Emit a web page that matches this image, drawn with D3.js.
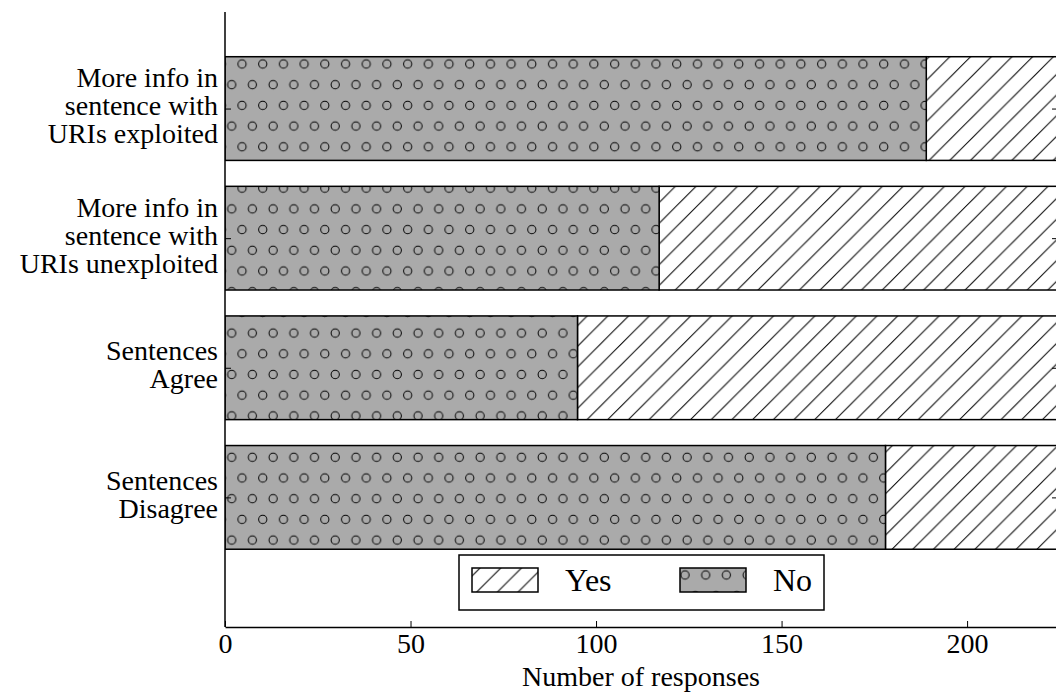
<!DOCTYPE html>
<html>
<head>
    <script src="https://d3js.org/d3.v7.min.js"></script>
    <style>
        body { margin: 0; background: #fff; }
    </style>
</head>
<body>
<script>
// categories from bottom (0) to top (3)
const categories = [
    ['Sentences', 'Disagree'],
    ['Sentences', 'Agree'],
    ['More info in', 'sentence with', 'URIs unexploited'],
    ['More info in', 'sentence with', 'URIs exploited']
];
const noValues = [178, 95, 117, 189];
const yesValues = [72, 155, 133, 61];
const xTicks = [0, 50, 100, 150, 200];
const legendLabels = ['Yes', 'No'];
const xLabel = 'Number of responses';

const font = '"Liberation Serif", "DejaVu Serif", serif';
const width = 1056;
const height = 693;
const margin = { top: 12, right: -2, bottom: 66, left: 225 };

const x = d3.scaleLinear()
    .domain([0, 224.5])
    .range([margin.left, width - margin.right]);

const y = d3.scaleLinear()
    .domain([-1, 3.745])
    .range([height - margin.bottom, margin.top]);

const barH = 0.8;

let svg = d3.select('body').append('svg')
    .attr('width', width)
    .attr('height', height)
    .attr('viewBox', [0, 0, width, height])
    .style('font-family', font);

const defs = svg.append('defs');

// diagonal hatch for "Yes"
const hs = 20.7;
const pYes = defs.append('pattern')
    .attr('id', 'hatchYes')
    .attr('patternUnits', 'userSpaceOnUse')
    .attr('width', hs).attr('height', hs);
pYes.append('rect').attr('width', hs).attr('height', hs).attr('fill', '#fff');
pYes.append('path')
    .attr('d', `M-1,14 L14,-1 M12,${hs + 1} L${hs + 1},12`)
    .attr('stroke', '#000').attr('stroke-width', 1);

// small circles for "No"
function circlePattern(id, ox, oy) {
    const p = defs.append('pattern')
        .attr('id', id)
        .attr('patternUnits', 'userSpaceOnUse')
        .attr('x', ox).attr('y', oy)
        .attr('width', hs).attr('height', hs * 2);
    p.append('rect').attr('width', hs).attr('height', hs * 2).attr('fill', '#aaaaaa');
    [[hs / 4, hs / 2], [hs * 3 / 4, hs * 1.5]].forEach(c => {
        p.append('circle')
            .attr('cx', c[0]).attr('cy', c[1]).attr('r', 4.1)
            .attr('fill', 'none').attr('stroke', '#000').attr('stroke-width', 1);
    });
}
circlePattern('hatchNo', -1.175, -8.45);
circlePattern('hatchNoLegend', -3.275, 26.45);

defs.append('clipPath').attr('id', 'plotClip')
    .append('rect')
    .attr('x', margin.left).attr('y', margin.top)
    .attr('width', width - margin.right - margin.left)
    .attr('height', height - margin.bottom - margin.top);

const bars = svg.append('g').attr('clip-path', 'url(#plotClip)');

const idx = d3.range(categories.length);

bars.selectAll('rect.yes')
    .data(idx)
    .join('rect')
    .attr('class', 'yes')
    .attr('x', i => x(noValues[i]))
    .attr('y', i => y(i + barH / 2))
    .attr('width', i => x(noValues[i] + yesValues[i]) - x(noValues[i]))
    .attr('height', i => y(i - barH / 2) - y(i + barH / 2))
    .attr('fill', 'url(#hatchYes)')
    .attr('stroke', '#000')
    .attr('stroke-width', 1.5);

bars.selectAll('rect.no')
    .data(idx)
    .join('rect')
    .attr('class', 'no')
    .attr('x', x(0))
    .attr('y', i => y(i + barH / 2))
    .attr('width', i => x(noValues[i]) - x(0))
    .attr('height', i => y(i - barH / 2) - y(i + barH / 2))
    .attr('fill', 'url(#hatchNo)')
    .attr('stroke', '#000')
    .attr('stroke-width', 1.5);

// bottom axis with inward ticks
const xAxis = svg.append('g')
    .attr('transform', `translate(0, ${y(-1)})`)
    .call(d3.axisBottom(x).tickValues(xTicks).tickSize(-6).tickSizeOuter(0).tickPadding(6));
xAxis.attr('font-family', font);
xAxis.select('.domain').attr('stroke', '#000').attr('stroke-width', 1.5);
xAxis.selectAll('.tick line').attr('stroke', '#000').attr('stroke-width', 1);
xAxis.selectAll('.tick text')
    .style('font-family', font)
    .style('font-size', '28px')
    .attr('fill', '#000');

// left spine
svg.append('line')
    .attr('x1', x(0)).attr('x2', x(0))
    .attr('y1', y(3.745)).attr('y2', y(-1))
    .attr('stroke', '#000').attr('stroke-width', 1.5);

// inward ticks on left and right
const leftTicks = svg.append('g')
    .attr('transform', `translate(${x(0)}, 0)`)
    .call(d3.axisRight(y).tickValues(idx).tickSize(6).tickFormat(''));
leftTicks.select('.domain').remove();
leftTicks.selectAll('.tick line').attr('stroke', '#000').attr('stroke-width', 1);

const rightTicks = svg.append('g')
    .attr('transform', `translate(${x(224.5)}, 0)`)
    .call(d3.axisLeft(y).tickValues(idx).tickSize(6).tickFormat(''));
rightTicks.select('.domain').remove();
rightTicks.selectAll('.tick line').attr('stroke', '#000').attr('stroke-width', 1);

// category labels
const lineStep = 28;
svg.append('g')
    .selectAll('text')
    .data(idx)
    .join('text')
    .attr('text-anchor', 'end')
    .style('font-family', font)
    .style('font-size', '28px')
    .each(function (i) {
        const lines = categories[i];
        const n = lines.length;
        d3.select(this).selectAll('tspan')
            .data(lines)
            .join('tspan')
            .attr('x', x(0) - 7)
            .attr('y', (d, k) => y(i) + 6.5 + (k - (n - 1) / 2) * lineStep)
            .text(d => d);
    });

// x label
svg.append('text')
    .attr('x', 641)
    .attr('y', 686)
    .attr('text-anchor', 'middle')
    .style('font-family', font)
    .style('font-size', '28px')
    .text(xLabel);

// legend
const legend = svg.append('g');
legend.append('rect')
    .attr('x', 459).attr('y', 555)
    .attr('width', 365).attr('height', 55)
    .attr('fill', '#fff')
    .attr('stroke', '#000').attr('stroke-width', 1.5);

const legendItems = [
    { label: legendLabels[0], fill: 'url(#hatchYes)', sx: 472, tx: 565 },
    { label: legendLabels[1], fill: 'url(#hatchNoLegend)', sx: 680, tx: 773 }
];
legend.selectAll('rect.swatch')
    .data(legendItems)
    .join('rect')
    .attr('class', 'swatch')
    .attr('x', d => d.sx).attr('y', 568)
    .attr('width', 66).attr('height', 24)
    .attr('fill', d => d.fill)
    .attr('stroke', '#000').attr('stroke-width', 1.5);
legend.selectAll('text')
    .data(legendItems)
    .join('text')
    .attr('x', d => d.tx).attr('y', 591)
    .style('font-family', font)
    .style('font-size', '32px')
    .text(d => d.label);
</script>
</body>
</html>
